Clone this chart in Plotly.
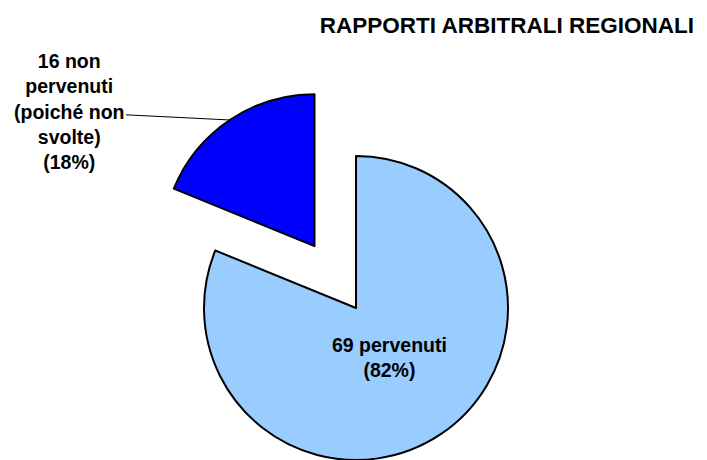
import math
import plotly.graph_objects as go

# ---- data ----
categories = ["pervenuti", "non pervenuti (poiché non svolte)"]
values = [69, 16]
percent_labels = ["82%", "18%"]
slice_colors = ["#99CCFF", "#0000FF"]
title_text = "RAPPORTI ARBITRALI REGIONALI"

W, H = 707, 460
FONT = "Liberation Sans, Arial, sans-serif"

# ---- geometry (layout) ----
r_px = 152
cx, cy = 356, 308          # centre of the main pie in px
pull = 0.49                # pulled-out fraction of the small slice
inner_text_r = 0.39        # radial position of the inside label (fraction of r)

total = sum(values)
start = 360 * values[0] / total
mid_small = math.radians(start + 180 * values[1] / total)   # clockwise from 12 o'clock
mid_big = math.radians(180 * values[0] / total)
dx, dy = math.sin(mid_small), -math.cos(mid_small)
cx2, cy2 = cx + pull * r_px * dx, cy + pull * r_px * dy


def domain(ccx, ccy):
    x0, x1 = (ccx - r_px) / W, (ccx + r_px) / W
    y0, y1 = 1 - (ccy + r_px) / H, 1 - (ccy - r_px) / H
    return dict(x=[max(0, x0), min(1, x1)], y=[max(0, y0), min(1, y1)])


clear = "rgba(0,0,0,0)"

fig = go.Figure()
fig.add_trace(go.Pie(
    labels=categories, values=values, sort=False, direction="clockwise",
    rotation=0, domain=domain(cx, cy),
    marker=dict(colors=[slice_colors[0], clear],
                line=dict(color=["black", clear], width=2)),
    textinfo="none", hoverinfo="skip", showlegend=False,
))
fig.add_trace(go.Pie(
    labels=categories, values=values, sort=False, direction="clockwise",
    rotation=0, domain=domain(cx2, cy2),
    marker=dict(colors=[clear, slice_colors[1]],
                line=dict(color=[clear, "black"], width=2)),
    textinfo="none", hoverinfo="skip", showlegend=False,
))

label_font = dict(family=FONT, size=19.5, color="black", weight="bold")

# inside label of the main slice
ix = cx + inner_text_r * r_px * math.sin(mid_big)
iy = cy - inner_text_r * r_px * math.cos(mid_big)
fig.add_annotation(
    x=ix / W, y=1 - iy / H, xref="paper", yref="paper", showarrow=False,
    xanchor="center", yanchor="middle",
    text=f"{values[0]} {categories[0]}<br>({percent_labels[0]})",
    font=label_font, align="center",
)

# outside label for the pulled slice
tipx, tipy = cx2 + r_px * dx, cy2 + r_px * dy
lbl_x, lbl_y = 69, 112
fig.add_annotation(
    x=tipx / W, y=1 - tipy / H, xref="paper", yref="paper",
    ax=lbl_x - tipx, ay=lbl_y - tipy,
    text=f"{values[1]} non<br>pervenuti<br>(poiché non<br>svolte)<br>({percent_labels[1]})",
    showarrow=True, arrowhead=0, arrowwidth=1, arrowcolor="black", standoff=0,
    font=label_font, align="center",
)

fig.update_layout(
    width=W, height=H, margin=dict(l=0, r=0, t=0, b=0),
    paper_bgcolor="white", plot_bgcolor="white",
    title=dict(text=title_text, x=694 / W, xanchor="right", y=1 - 25 / H,
               yanchor="middle",
               font=dict(family=FONT, size=22.5, color="black", weight="bold")),
)

fig.write_html(
    "out.html",
    config={"displayModeBar": False},
    post_script="document.body.style.margin='0';document.body.style.overflow='hidden';",
)
